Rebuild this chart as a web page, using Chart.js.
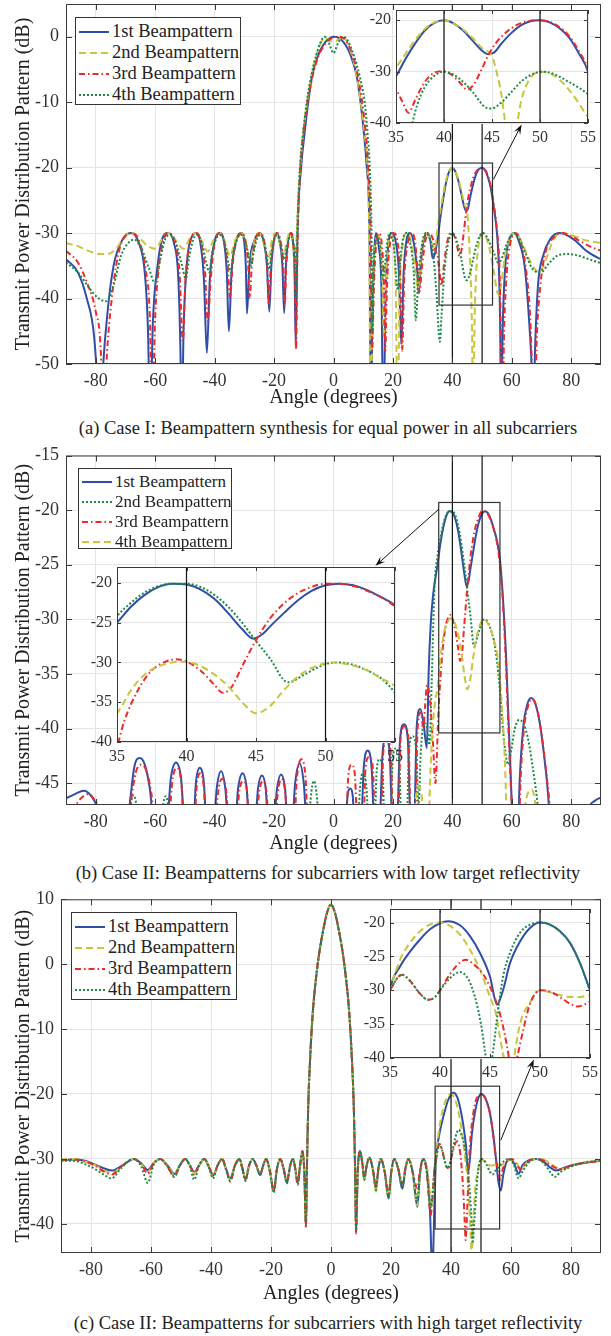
<!DOCTYPE html>
<html>
<head>
<meta charset="utf-8">
<script src="https://cdn.jsdelivr.net/npm/chart.js@4.4.0/dist/chart.umd.min.js"></script>
<style>
  body { margin: 0; background: #fff; }
  #page { position: relative; width: 611px; height: 1336px; font-family: "Liberation Serif", "Times New Roman", serif; color: #222; overflow: hidden; }
  canvas { position: absolute; }
  .legend { position: absolute; background: #fff; border: 1px solid #333; box-sizing: border-box; padding: 3px 0 0 3px; }
  .legend .row { display: flex; align-items: center; white-space: nowrap; }
  .legend svg { margin-right: 3px; flex: none; }
  .caption { position: absolute; left: 0; width: 656px; text-align: center; font-size: 18.5px; line-height: 22px; white-space: nowrap; }
</style>
</head>
<body>
<div id="page">
  <canvas id="mainA" width="611" height="412" style="left:0;top:0"></canvas>
  <canvas id="zoomA" width="240" height="141" style="left:360px;top:6px"></canvas>
  <div class="caption" style="top:417px">(a) Case I: Beampattern synthesis for equal power in all subcarriers</div>

  <canvas id="mainB" width="611" height="418" style="left:0;top:440px"></canvas>
  <canvas id="zoomB" width="326" height="203" style="left:81px;top:563px"></canvas>
  <div class="caption" style="top:862px">(b) Case II: Beampatterns for subcarriers with low target reflectivity</div>

  <canvas id="mainC" width="611" height="428" style="left:0;top:880px"></canvas>
  <canvas id="zoomC" width="248" height="177" style="left:354px;top:905px"></canvas>
  <div class="caption" style="top:1312px">(c) Case II: Beampatterns for subcarriers with high target reflectivity</div>
</div>
<script>
// ---- (a) Case I, [angle deg, dB]
const a1 = [[-90,-34],[-86,-36],[-83,-40],[-80.5,-46],[-79.3,-55],[-78.7,-65],[-77.7,-52],[-76,-42],[-74,-35],[-71,-31],[-68.2,-30],[-65.5,-31.5],[-63.5,-36],[-62.4,-45],[-61.7,-60],[-60.8,-44],[-59.2,-35],[-57.7,-31],[-55.8,-30],[-53.7,-31.5],[-52.2,-37],[-51.5,-48],[-51.1,-60],[-50.4,-44],[-49.2,-34],[-47.6,-30.5],[-46.3,-30],[-44.8,-31.5],[-43.6,-37],[-42.6,-48.3],[-41.6,-37],[-40.1,-31.5],[-38.2,-30],[-36.8,-31.5],[-35.9,-36],[-35.2,-45],[-34.3,-36],[-32.7,-31],[-31,-30],[-30,-31.5],[-29.5,-35],[-29.1,-42.3],[-28.3,-35],[-26.5,-31],[-24.8,-30],[-23.4,-31.5],[-22.4,-35],[-21.6,-42],[-20.9,-35],[-20,-31],[-19.1,-30],[-18,-31.5],[-17.2,-35],[-16.6,-42.2],[-16,-35],[-15.2,-31],[-14.3,-30],[-13.6,-31.5],[-13.1,-36],[-12.7,-47.3],[-12.1,-30],[-10.9,-20],[-9.8,-15],[-8.5,-10],[-7.2,-6],[-5.3,-3],[-2.7,-0.8],[0.3,0],[3.3,-0.8],[5.9,-3],[7.8,-6],[9.1,-10],[10.3,-15],[11.2,-20],[12.1,-30],[12.6,-60],[13.1,-42],[13.7,-33],[14.3,-30],[15.2,-32],[16.1,-38],[16.8,-60],[17.5,-40],[18.4,-32],[19.6,-30],[21,-31.5],[22,-36],[22.8,-47],[23.6,-36],[24.6,-31],[25.8,-30],[27,-31.5],[28,-35],[28.7,-39.2],[29.5,-34],[30.5,-30.8],[31.7,-30],[32.7,-31.5],[33.3,-33.8],[34.2,-33],[35,-30.9],[36,-27.5],[37,-24.5],[38,-22],[39,-20.5],[40,-20],[41,-20.6],[42,-22],[43,-24],[44,-26],[44.6,-26.6],[45.2,-26.3],[46,-24.5],[47,-22.5],[48,-21],[49,-20.2],[50,-20],[51,-20.4],[52,-21.5],[53,-23.3],[54,-26.3],[55,-30],[55.7,-36],[56.1,-45],[56.4,-60],[56.9,-45],[57.8,-35],[58.8,-31.5],[59.8,-30.3],[60.8,-30],[62.4,-31.3],[64.3,-35],[65.9,-44],[66.8,-52],[67.2,-60],[67.8,-48],[68.8,-38],[70.5,-33.5],[72.8,-31],[76,-30],[78.5,-30.3],[81.5,-31.2],[84.5,-32.5],[87,-33.3],[90,-34]];
const a2 = [[-90,-31.5],[-86,-32],[-82,-32.8],[-78.5,-33.2],[-76,-33.2],[-73,-32.3],[-70.5,-30.7],[-68,-30],[-65.5,-30.6],[-63,-31.8],[-60,-32.4],[-57.5,-30.8],[-55.5,-30],[-53.2,-31],[-50.5,-32.4],[-48.3,-30.8],[-46.5,-30],[-44.3,-31.2],[-42.3,-32.8],[-40.3,-31],[-38.3,-30],[-36.5,-31.5],[-34.8,-33.5],[-33,-31],[-31.2,-30],[-29.5,-31.5],[-28,-34],[-26.5,-31],[-25,-30],[-23.5,-31.5],[-22,-34],[-20.7,-31],[-19.4,-30],[-18,-31.5],[-16.8,-33.5],[-15.6,-31],[-14.7,-30],[-13.7,-31.5],[-12.9,-35],[-12.4,-30],[-11.2,-20],[-10,-14],[-8.7,-9.5],[-7,-5],[-5,-1.8],[-3,-0.2],[-1.5,-0.5],[0,-0.8],[1.5,-0.5],[3.3,-0.1],[5.3,-1.6],[7.3,-4.8],[9,-9.5],[10.5,-15],[11.5,-21],[12.1,-35],[12.4,-60],[13.3,-38],[14.2,-31],[15.2,-30.5],[16.3,-35],[17,-46],[17.8,-36],[19,-30.5],[20,-31],[20.9,-38],[21.6,-60],[22.2,-40],[23.3,-32],[24.6,-30],[26.2,-31.5],[27.6,-36],[28.5,-38.5],[29.5,-33],[31,-30],[32.6,-31],[34,-32.5],[35,-29.3],[36,-26.5],[37,-23.8],[38,-21.7],[39,-20.4],[40,-20],[41,-20.6],[42,-21.8],[43,-23.5],[44,-25.5],[45,-27],[45.6,-31],[46.1,-36],[46.6,-45],[47,-60],[47.4,-45],[47.9,-37],[48.5,-33],[49.3,-30.6],[50.2,-30],[51,-30.3],[52,-31.5],[53,-33.5],[54,-36],[55,-38.8],[55.7,-39.5],[56.5,-37.5],[57.7,-33.5],[59.2,-30.8],[60.8,-30],[62.5,-30.7],[64.5,-32.6],[67,-35],[69.3,-36],[71.5,-34],[74,-31],[77,-30],[80,-30.3],[84,-31],[90,-31.5]];
const a3 = [[-90,-32.7],[-86,-34.5],[-83,-37.5],[-80,-42],[-78.3,-48],[-77.4,-62],[-76.4,-50],[-74.6,-40],[-72.3,-33],[-69.7,-30.3],[-67.7,-30],[-65.2,-31.5],[-63.2,-35.5],[-61.7,-44],[-61,-60],[-60.1,-44],[-58.7,-35],[-57,-30.8],[-55.6,-30],[-53.3,-31.5],[-51.8,-36],[-50.7,-46.5],[-49.8,-37],[-48.3,-31.5],[-46.3,-30],[-44.5,-31.5],[-43.2,-36],[-42.3,-43.5],[-41.3,-37],[-40,-31.5],[-38.2,-30],[-36.7,-31.5],[-35.6,-35],[-34.8,-40],[-34,-35],[-32.5,-31],[-30.7,-30],[-29.5,-31.5],[-28.7,-35],[-28.2,-40],[-27.5,-35],[-26.2,-31],[-24.5,-30],[-23.2,-31.5],[-22.3,-35],[-21.8,-41],[-21.1,-35],[-19.9,-31],[-18.9,-30],[-17.7,-31.5],[-16.9,-35],[-16.4,-41],[-15.9,-35],[-15,-31],[-14.2,-30],[-13.5,-31.5],[-13,-36],[-12.6,-47.8],[-12.1,-32],[-11.4,-22],[-10.4,-16],[-9.1,-11],[-7.5,-7],[-5.5,-3.5],[-3,-1.2],[-0.5,-0.2],[1.8,0],[4,-0.5],[6.2,-2.5],[8,-5.5],[9.5,-9.5],[10.7,-14],[11.7,-20],[12.5,-30],[13,-48],[13.6,-38],[14.3,-32],[15.2,-30],[16.3,-32],[17,-38],[17.4,-48],[18,-38],[18.9,-32],[20.2,-30],[21.6,-31.5],[22.5,-37],[23.1,-48],[23.8,-37],[25,-31.5],[26.2,-30],[27.5,-31.5],[28.3,-36],[28.9,-39],[29.8,-35],[31,-31],[32.3,-30],[33.5,-31],[34.5,-33],[35,-33.5],[35.7,-36],[36.3,-38],[37,-35.5],[38,-32],[39,-30.2],[39.8,-29.9],[40.7,-30.5],[41.6,-32],[42.4,-33.5],[43.1,-32.5],[43.8,-30],[44.7,-26.5],[45.5,-24.2],[46.5,-22.3],[47.5,-21],[48.5,-20.3],[49.7,-20],[51,-20.3],[52,-21.3],[53,-23],[54,-25.8],[55,-29.5],[55.8,-35],[56.3,-45],[56.8,-60],[57.4,-45],[58.3,-36],[59.5,-31.5],[61.2,-30],[62.8,-31],[64.6,-35],[66.2,-43],[67.6,-60],[68.4,-46],[69.6,-38],[71.3,-33],[74,-30.7],[77,-30],[80,-30.5],[84,-31.5],[87,-32.2],[90,-32.7]];
const a4 = [[-90,-34.5],[-86,-36],[-82,-38.5],[-79,-40],[-76.3,-40.4],[-74,-38],[-71.5,-33.5],[-69,-31.5],[-67,-31],[-64.5,-32.5],[-62,-35.5],[-60.1,-37.6],[-58.3,-34],[-56.7,-31],[-55,-30.3],[-53,-31.5],[-51.2,-34.5],[-49.7,-36.9],[-48.5,-33.5],[-47.2,-31],[-46,-30.3],[-44.3,-31.5],[-42.8,-34.5],[-41.8,-36],[-40.8,-33],[-39.4,-30.8],[-38,-30.3],[-36.6,-31.5],[-35.4,-34.5],[-34.6,-36],[-33.7,-33],[-32.3,-30.8],[-31,-30.3],[-29.6,-31.5],[-28.5,-33.5],[-27.7,-35],[-26.9,-33],[-25.7,-30.8],[-24.5,-30.3],[-23.3,-31.5],[-22.3,-34],[-21.6,-35.5],[-20.9,-33],[-19.8,-30.8],[-19,-30.3],[-18,-31.5],[-17.2,-33],[-16.6,-34],[-15.9,-32.5],[-15,-30.8],[-14.2,-30.5],[-13.5,-31.5],[-12.9,-34],[-12.6,-40],[-12.2,-30],[-11.3,-20],[-10.3,-15],[-9,-10],[-7.5,-6],[-5.8,-2.8],[-4.3,-0.8],[-3,0],[-1.6,-0.9],[0,-2.5],[1.6,-0.9],[3.3,0],[4.8,-0.6],[6.8,-2.8],[8.8,-6],[10.5,-10],[11.5,-15],[12.2,-20],[12.8,-30],[13.1,-45],[13.5,-36],[14.3,-31],[15,-30.5],[15.8,-32.5],[16.6,-37],[17.3,-35],[18.2,-31],[19.3,-30],[20.3,-32],[21,-36],[21.6,-38.7],[22.3,-35],[23.3,-31],[24.6,-30],[25.8,-31.5],[27,-36],[27.7,-43.3],[28.5,-37],[29.7,-32],[31,-30],[32.3,-30.8],[33.5,-33],[34.6,-39],[35.8,-46.6],[36.3,-43],[36.7,-40],[37.2,-36.5],[38,-33],[39,-30.8],[40,-30],[41,-30.6],[42,-32],[43,-34],[44.2,-36.8],[44.9,-37.2],[45.8,-36.3],[47,-34],[48,-32],[49.3,-30.4],[50.3,-30],[51.5,-30.5],[53,-32],[54.2,-33.3],[55.3,-34.5],[56.5,-34],[58,-32],[59.5,-30.6],[60.8,-30],[62.5,-31],[64.5,-33],[67,-35.5],[69.7,-36],[72.5,-34.6],[75.5,-33.4],[78.8,-33.2],[82,-33.4],[86,-34],[90,-34.6]];

// ---- (b) Case II, low reflectivity
const b1 = [[-90,-46.4],[-87,-46],[-84,-45.7],[-81.5,-46.2],[-79.5,-47.3],[-78,-50],[-70,-50],[-68.6,-47],[-67,-43.5],[-65.2,-42.7],[-63.5,-43.3],[-61.8,-45.5],[-60.3,-49],[-56.2,-49],[-54.7,-44.5],[-53,-43.1],[-51.3,-44.5],[-50,-49],[-47.2,-49],[-46.3,-45],[-45,-43.6],[-43.6,-45],[-42.7,-49],[-40.3,-49],[-39.3,-45.5],[-37.8,-43.9],[-36.4,-45.5],[-35.3,-49],[-33.2,-49],[-32.1,-45.5],[-30.6,-44.1],[-29.2,-45.5],[-28.3,-49],[-26.5,-49],[-25.4,-45.5],[-24.1,-44.3],[-22.8,-45.5],[-21.9,-49],[-20.3,-49],[-19,-45.5],[-17.7,-44.2],[-16.3,-45.5],[-15.4,-49],[-14,-49],[-12.9,-45],[-11.4,-43.2],[-10,-45],[-8.9,-49],[3.8,-49],[4.8,-46],[5.6,-45.5],[6.4,-46],[7.2,-49],[9.2,-49],[10.2,-43.5],[11.5,-42],[12.8,-43.5],[13.8,-49],[15.4,-49],[16.5,-42.3],[17.7,-40.8],[18.9,-42.3],[19.9,-49],[21.3,-49],[22.4,-41],[23.7,-39.6],[25,-41],[26,-49],[27.1,-49],[28,-39.8],[29.2,-38.2],[30.3,-39.5],[31.4,-41.8],[32,-35],[32.7,-30.5],[33.5,-27.8],[34.3,-26.2],[35,-25],[36,-23],[37,-21.5],[38,-20.5],[39,-20.1],[40,-20.2],[41,-20.8],[42,-22],[43,-23.8],[44,-25.8],[44.8,-27],[45.5,-26.4],[46,-25.5],[47,-23.8],[48,-22.2],[49,-21],[50,-20.3],[51,-20.1],[52,-20.3],[53,-20.9],[54,-21.8],[55,-22.8],[56,-24.5],[57,-28],[58,-33],[59,-40],[60,-47],[60.6,-50],[62,-50],[62.6,-45],[63.8,-40],[65.2,-37.8],[66.5,-37.2],[68,-37.8],[69.7,-40],[71.5,-44],[73.5,-49],[84.5,-49],[86,-47.2],[88,-46.6],[90,-46.3]];
const b2 = [[-90,-50],[-69,-50],[-68.3,-47.3],[-67.3,-46.1],[-66.2,-47.3],[-65.5,-50],[-58,-50],[-57.4,-47.3],[-56.5,-46.2],[-55.6,-47.3],[-55,-50],[-8.5,-50],[-7.7,-46.5],[-6.6,-44.8],[-5.5,-46.5],[-4.7,-50],[8,-50],[8.9,-45.5],[10,-44],[11.1,-45.5],[12,-50],[13.7,-50],[14.5,-44],[15.5,-42.8],[16.5,-44],[17.4,-50],[19,-50],[19.9,-43],[21,-41.8],[22.1,-43],[23,-50],[24.5,-50],[25.4,-42],[26.6,-40.7],[27.8,-42],[28.6,-47],[29.4,-42],[30.5,-39.5],[31.5,-40],[32.3,-41.5],[33,-36],[34,-27],[35,-24.2],[36,-22.5],[37,-21.2],[38,-20.4],[39,-20.1],[40,-20.1],[41,-20.5],[42,-21.5],[43,-23],[44,-25],[45,-27.3],[46,-29.5],[47.3,-32.5],[48.5,-31.5],[50,-30.2],[51,-30],[52,-30.3],[53,-31],[54,-32],[55,-33.8],[56,-36.5],[57,-40],[58,-42.5],[58.8,-43.3],[59.8,-42],[61,-40],[62.5,-39.2],[64,-39.6],[65.5,-41],[67,-43.5],[68.5,-46.5],[69.8,-50],[90,-50]];
const b3 = [[-90,-50],[-87.5,-47.5],[-85,-46.4],[-82.5,-46],[-80.5,-46.5],[-78.8,-47.5],[-77.5,-50],[-69.5,-50],[-68.3,-47],[-66.5,-44],[-64.6,-43.3],[-62.8,-44],[-61,-46.5],[-59.8,-50],[-55.8,-50],[-54.3,-45],[-52.8,-43.6],[-51.2,-45],[-50,-50],[-47,-50],[-46.1,-45.5],[-44.9,-44.1],[-43.6,-45.5],[-42.7,-50],[-40,-50],[-38.9,-46],[-37.4,-44.6],[-36,-46],[-35,-50],[-32.9,-50],[-31.8,-46],[-30.4,-44.8],[-29,-46],[-28.1,-50],[-26.4,-50],[-25.1,-46],[-23.8,-44.8],[-22.5,-46],[-21.6,-50],[-19.9,-50],[-18.8,-46],[-17.5,-44.6],[-16.2,-46],[-15.2,-50],[-13.5,-50],[-12.3,-44.5],[-10.8,-42.8],[-9.4,-44.5],[-8.4,-50],[4,-50],[5,-44.3],[6.1,-43.3],[7.2,-44.3],[8.2,-50],[9.9,-50],[10.8,-43.5],[12,-42.6],[13.2,-43.5],[14.2,-50],[15.8,-50],[16.8,-42],[18,-41],[19.2,-42],[20.2,-50],[21.6,-50],[22.6,-40.8],[23.9,-39.8],[25.2,-40.8],[26.1,-50],[27.3,-50],[28.3,-40],[29.4,-38.5],[30.2,-40],[30.8,-38],[31.5,-36],[32.5,-37.5],[33.5,-41.5],[34.3,-45],[35.1,-40],[35.5,-37.5],[36.5,-33.5],[37.5,-31],[38.5,-29.9],[39.2,-29.6],[40,-29.9],[41,-31],[42,-32.8],[42.6,-33.8],[43.2,-33.2],[44,-30.5],[45,-27.2],[46,-24.5],[47,-22.6],[48,-21.3],[49,-20.5],[50,-20.1],[51,-20.1],[52,-20.4],[53,-21],[54,-21.8],[55,-23],[56,-25],[57,-28.5],[58,-34],[59,-41],[60,-47],[60.8,-50],[62.3,-50],[62.9,-45],[64.1,-40],[65.5,-37.9],[66.8,-37.3],[68.3,-38],[70,-40.5],[72,-45],[74.3,-50],[90,-50]];
const b4 = [[-90,-50],[26.5,-50],[27.6,-46.5],[28.7,-45.3],[29.8,-46.5],[30.7,-50],[31.8,-50],[32.6,-44],[33.5,-39.5],[34.3,-37.3],[35,-36.4],[36,-33.5],[37,-31.5],[38,-30.5],[39.5,-29.9],[40.5,-30.1],[42,-31.5],[43,-33],[44,-35],[45,-36.4],[46,-35.5],[47,-33.5],[48,-31.8],[49,-30.7],[50.5,-30],[52,-30.4],[53,-31],[54,-32],[55,-33],[56,-35.5],[57,-39.5],[57.8,-44],[58.5,-50],[63.5,-50],[64.5,-47],[65.6,-45.8],[66.6,-45.6],[67.7,-46.5],[68.7,-50],[90,-50]];

// ---- (c) Case II, high reflectivity (main lobe shared by all four)
const cLobe = [[-8.05,-32],[-7.6,-22],[-6.9,-14],[-6,-7],[-5,-2.2],[-3.9,1.8],[-2.7,5],[-1.4,7.8],[0,9.2],[1.4,7.8],[2.7,5],[3.9,1.8],[5,-2.2],[6,-7],[6.9,-14],[7.6,-22],[8.05,-32]];
const c1L = [[-90,-30.2],[-86,-30.1],[-82,-30.3],[-79,-30.8],[-76,-31.4],[-73,-31.8],[-69.5,-31],[-65.8,-30],[-63.2,-30.7],[-61.1,-31.7],[-59,-30.6],[-56.9,-30],[-54.5,-31],[-52.2,-32.3],[-50.4,-31],[-48.6,-30],[-47,-31],[-45.6,-32],[-44,-31],[-42.2,-30],[-40.6,-31.3],[-39.3,-32.6],[-37.8,-31],[-36.3,-30],[-35,-31.5],[-33.6,-33],[-32,-31],[-30.5,-30],[-29.5,-31.5],[-28.5,-33.2],[-27.3,-31],[-26.1,-30],[-24.9,-31],[-23.6,-32.5],[-22.6,-31],[-21.6,-30],[-20.3,-32],[-19.1,-35],[-18,-31.5],[-16.9,-30],[-15.8,-31.5],[-14.7,-33.7],[-13.6,-31],[-12.7,-30],[-11.9,-31.5],[-11.1,-33.7],[-10.3,-31],[-9.5,-28.8],[-8.9,-32],[-8.35,-40.5]];
const c1R = [[8.35,-41.3],[8.9,-32],[9.7,-28.8],[10.4,-30.5],[11.1,-33],[11.9,-31],[12.8,-29.8],[13.9,-31.5],[15,-34.4],[15.8,-31.5],[16.6,-30],[17.9,-32],[19.2,-36.1],[20.1,-32],[21.1,-30],[22.4,-31.5],[23.8,-34.6],[24.8,-31.5],[25.8,-30],[27.2,-32],[28.8,-37.4],[29.6,-32.5],[30.7,-30],[31.9,-31.5],[32.9,-37],[33.4,-44],[33.7,-50],[34.1,-44],[34.6,-35],[35,-30],[36,-26.5],[37,-24.3],[38,-22.5],[39,-21],[40,-20.1],[40.8,-19.8],[42,-20.4],[43,-22],[44,-24.5],[45,-28],[45.7,-32.1],[46.3,-30],[47,-26],[48,-22.8],[49,-20.8],[50,-20],[51,-20.3],[52,-21.3],[53,-23],[54,-26],[55,-30],[55.8,-33.5],[56.6,-34.9],[57.4,-32.5],[58.5,-30.5],[60,-30],[61.3,-31],[62.5,-32.3],[63.8,-31],[66,-30.2],[68.5,-30],[71,-30.5],[73,-31.3],[75,-31.8],[78,-31.3],[82,-30.8],[86,-30.5],[90,-30.3]];
const c2L = [[-90,-30.1],[-86,-30],[-82,-30.4],[-78.5,-31],[-75.5,-31.8],[-73,-32.2],[-69.5,-31],[-65.8,-30],[-63.2,-30.8],[-61.1,-32],[-59,-30.6],[-56.9,-30],[-54.5,-31],[-52.2,-32.5],[-50.4,-31],[-48.6,-30],[-47,-31],[-45.6,-32.2],[-44,-31],[-42.2,-30],[-40.6,-31.3],[-39.3,-32.8],[-37.8,-31],[-36.3,-30],[-35,-31.5],[-33.6,-33.2],[-32,-31],[-30.5,-30],[-29.5,-31.5],[-28.5,-33],[-27.3,-31],[-26.1,-30],[-24.9,-31],[-23.6,-32.3],[-22.6,-31],[-21.6,-30],[-20.3,-32],[-19.1,-35],[-18,-31.5],[-16.9,-30],[-15.8,-31.5],[-14.7,-33.5],[-13.6,-31],[-12.7,-30],[-11.9,-31.5],[-11.1,-33.5],[-10.3,-31],[-9.5,-29],[-8.9,-32],[-8.35,-40]];
const c2R = [[8.35,-41],[8.9,-32],[9.7,-29],[10.4,-30.5],[11.1,-33.3],[11.9,-31],[12.8,-29.8],[13.9,-31.5],[15,-35],[15.8,-31.5],[16.6,-30],[17.9,-32],[19.2,-35.8],[20.1,-32],[21.1,-30],[22.4,-31.5],[23.8,-33.6],[24.8,-31.5],[25.8,-30],[27.2,-32],[28.8,-37.2],[29.6,-33],[30.7,-30.2],[31.9,-31],[32.9,-35],[33.5,-37.3],[34.2,-35],[35,-30],[36,-25.5],[37,-23],[38,-21.3],[39,-20.3],[40,-20],[41,-20.5],[42,-21.8],[43,-24],[44,-27],[45,-31],[45.6,-33.5],[46,-37],[46.5,-41],[46.9,-45],[47.3,-41],[48,-35],[49,-31.8],[50,-30],[51,-30.3],[52,-30.7],[53,-31],[54,-31],[55,-30.7],[56.5,-31],[58,-30.6],[60,-30],[61.8,-30.6],[63.3,-31.6],[64.8,-30.8],[67,-30.1],[70,-30],[72.5,-30.5],[75,-31.3],[77.5,-31.5],[81,-31],[85,-30.5],[90,-30.2]];
const c3L = [[-90,-30.2],[-86,-30.1],[-82,-30.4],[-78.5,-31.1],[-75.5,-32],[-73,-32.4],[-69.5,-31],[-65.8,-30],[-63.2,-30.8],[-61.1,-32.3],[-59,-30.6],[-56.9,-30],[-54.5,-31.2],[-52.2,-32.7],[-50.4,-31],[-48.6,-30],[-47,-31],[-45.6,-32.4],[-44,-31],[-42.2,-30],[-40.6,-31.3],[-39.3,-32.5],[-37.8,-31],[-36.3,-30],[-35,-31.5],[-33.6,-33.5],[-32,-31],[-30.5,-30],[-29.5,-31.5],[-28.5,-33],[-27.3,-31],[-26.1,-30],[-24.9,-31],[-23.6,-32.3],[-22.6,-31],[-21.6,-30],[-20.3,-32],[-19.1,-35],[-18,-31.5],[-16.9,-30],[-15.8,-31.5],[-14.7,-33.5],[-13.6,-31],[-12.7,-30],[-11.9,-31.5],[-11.1,-34],[-10.3,-31],[-9.5,-28.8],[-8.9,-32],[-8.35,-40.5]];
const c3R = [[8.35,-41.5],[8.9,-32],[9.7,-28.8],[10.4,-30.5],[11.1,-32.8],[11.9,-31],[12.8,-29.8],[13.9,-31.5],[15,-34],[15.8,-31.5],[16.6,-30],[17.9,-32],[19.2,-35.3],[20.1,-32],[21.1,-30],[22.4,-31.5],[23.8,-33.8],[24.8,-31.5],[25.8,-30],[27.2,-32],[28.8,-34.5],[29.6,-32],[30.7,-30],[31.9,-32],[32.6,-36],[33.2,-38.8],[33.8,-36],[34.5,-31.5],[35,-30],[36.2,-27.7],[37,-28.6],[38,-30.5],[38.8,-31.4],[39.5,-31],[40,-30],[41,-28.2],[42,-27.3],[42.8,-28.3],[43.5,-31],[44.1,-35],[44.5,-39],[44.9,-42.5],[45.3,-39],[45.8,-33],[46.3,-28],[47,-24.5],[48,-21.5],[49,-20.3],[50,-20],[51,-20.3],[52,-21.3],[53,-23],[54,-26],[55,-30],[55.8,-32.2],[56.4,-33.2],[57.3,-31.5],[58.8,-30.3],[60.3,-30],[62,-31],[63.2,-31.6],[64.8,-30.8],[67,-30.1],[69.5,-30],[72,-30.6],[74.5,-31.3],[76.5,-31.6],[80,-31],[85,-30.6],[90,-30.3]];
const c4L = [[-90,-30.3],[-86,-30.3],[-82,-30.8],[-78.5,-31.6],[-75.5,-32.5],[-73.3,-33],[-69.5,-31.2],[-65.8,-30],[-63.2,-31.2],[-61.1,-33.7],[-59,-30.8],[-56.9,-30],[-54.5,-31.2],[-52.2,-32.8],[-50.4,-31],[-48.6,-30],[-47,-31.2],[-45.6,-33.2],[-44,-31],[-42.2,-30],[-40.6,-31.5],[-39.3,-33],[-37.8,-31],[-36.3,-30],[-35,-31.7],[-33.6,-33.4],[-32,-31],[-30.5,-30],[-29.5,-31.7],[-28.5,-33.4],[-27.3,-31],[-26.1,-30],[-24.9,-31],[-23.6,-32.5],[-22.6,-31],[-21.6,-30],[-20.3,-32.2],[-19.1,-35.2],[-18,-31.5],[-16.9,-30],[-15.8,-31.5],[-14.7,-33.8],[-13.6,-31],[-12.7,-30],[-11.9,-31.5],[-11.1,-34],[-10.3,-31],[-9.5,-29],[-8.9,-32],[-8.35,-40]];
const c4R = [[8.35,-41],[8.9,-32],[9.7,-29],[10.4,-30.5],[11.1,-33.2],[11.9,-31],[12.8,-29.8],[13.9,-31.5],[15,-34.8],[15.8,-31.5],[16.6,-30],[17.9,-32],[19.2,-36],[20.1,-32],[21.1,-30],[22.4,-31.5],[23.8,-34.5],[24.8,-31.5],[25.8,-30],[27.2,-32],[28.8,-36.5],[29.6,-32.5],[30.7,-30],[31.9,-32],[32.6,-35.5],[33.2,-37.5],[33.9,-35],[34.5,-31.5],[35,-30],[36.2,-27.7],[37,-28.6],[38,-30.5],[38.8,-31.4],[39.5,-31],[40,-30],[41,-27.6],[42,-25.9],[42.6,-25.5],[43.4,-26.2],[44.3,-27.6],[45,-29.5],[45.8,-32.5],[46.4,-36],[46.9,-40],[47.2,-43],[47.7,-40],[48.3,-36],[49,-32],[50,-30],[51,-30.2],[52,-31],[53,-32],[53.8,-32.4],[55,-31.7],[56,-31.2],[57.5,-30.4],[59.5,-30],[61,-31],[62.5,-33],[64,-31.8],[66.5,-30.3],[69,-30],[71.5,-31],[73.5,-32.3],[74.5,-32.8],[76.5,-32],[80,-31.2],[85,-30.5],[90,-30.2]];

const labels = ['1st Beampattern', '2nd Beampattern', '3rd Beampattern', '4th Beampattern'];
// axis limits and tick values
const xMain = [-90, 90], xTicksMain = [-80, -60, -40, -20, 0, 20, 40, 60, 80];
const yMainA = [-50, 5], yTicksA = [-50, -40, -30, -20, -10, 0];
const yMainB = [-47, -15], yTicksB = [-45, -40, -35, -30, -25, -20, -15];
const yMainC = [-44.5, 10], yTicksC = [-40, -30, -20, -10, 0, 10];
const xZoom = [35, 55], xTicksZoom = [35, 40, 45, 50, 55];
const yZoom = [-40, -18], yTicksZoomA = [-40, -30, -20], yTicksZoomBC = [-40, -35, -30, -25, -20];
// marker lines, zoom boxes [x0, x1, y0, y1], arrows [[from], [to]]
const marks = [40, 50];
const boxA = [35.5, 53.5, -41, -19.3], boxB = [35.4, 56, -40.4, -19.3], boxC = [34.7, 56.2, -40.8, -18.8];
const arrowA = [[53.8, -21.8], [63.3, -13.4]];
const arrowB = [[35.5, -19.9], [14.1, -25.1]];
const arrowC = [[56.6, -27.1], [67.6, -14.7]];

const SERIF = '"Liberation Serif", "Times New Roman", serif';
const BLUE = '#2f4ea6', YELLOW = '#c9c53c', RED = '#ee2a2a', GREEN = '#1f8a47';
const SOLID = [], DASH = [7, 4], DASHDOT = [6, 3, 1.5, 3], DOT = [2, 2];

function series(label, pts, color, dash, order) {
  return {
    label, data: pts.map(p => ({ x: p[0], y: p[1] })),
    borderColor: color, borderDash: dash, borderWidth: 2, pointRadius: 0,
    cubicInterpolationMode: 'monotone', fill: false, order
  };
}

function decor(o) {
  return {
    id: 'decor',
    beforeDraw(chart) {
      if (!o.white) return;
      const { ctx, chartArea: a } = chart;
      ctx.save();
      ctx.fillStyle = '#fff';
      ctx.fillRect(a.left, a.top, a.width, a.height);
      ctx.restore();
    },
    afterDatasetsDraw(chart) {
      const { ctx, chartArea: a, scales: { x, y } } = chart;
      ctx.save();
      ctx.strokeStyle = '#111';
      ctx.lineWidth = 1.2;
      marks.forEach(v => {
        const px = x.getPixelForValue(v);
        ctx.beginPath(); ctx.moveTo(px, a.top); ctx.lineTo(px, a.bottom); ctx.stroke();
      });
      if (o.box) {
        const [x0, x1, y0, y1] = o.box;
        const l = x.getPixelForValue(x0), r = x.getPixelForValue(x1);
        const t = y.getPixelForValue(y1), b = y.getPixelForValue(y0);
        ctx.strokeStyle = '#333';
        ctx.strokeRect(l, t, r - l, b - t);
      }
      if (o.arrow) {
        const [[ax, ay], [bx, by]] = o.arrow;
        const x0 = x.getPixelForValue(ax), y0 = y.getPixelForValue(ay);
        const x1 = x.getPixelForValue(bx), y1 = y.getPixelForValue(by);
        const ang = Math.atan2(y1 - y0, x1 - x0), L = 10, W = 3.5;
        const c = Math.cos(ang), s = Math.sin(ang);
        ctx.strokeStyle = '#111'; ctx.fillStyle = '#111'; ctx.lineWidth = 1;
        ctx.beginPath(); ctx.moveTo(x0, y0); ctx.lineTo(x1 - L * 0.6 * c, y1 - L * 0.6 * s); ctx.stroke();
        ctx.beginPath();
        ctx.moveTo(x1, y1);
        ctx.lineTo(x1 - L * c + W * s, y1 - L * s - W * c);
        ctx.lineTo(x1 - L * 0.6 * c, y1 - L * 0.6 * s);
        ctx.lineTo(x1 - L * c - W * s, y1 - L * s + W * c);
        ctx.closePath(); ctx.fill();
      }
      // axes box with inward ticks
      ctx.strokeStyle = '#3a3a3a'; ctx.lineWidth = 1;
      ctx.strokeRect(a.left + 0.5, a.top + 0.5, a.width - 1, a.height - 1);
      const T = o.tick;
      ctx.beginPath();
      x.ticks.forEach(t => {
        const px = Math.round(x.getPixelForValue(t.value)) + 0.5;
        ctx.moveTo(px, a.bottom); ctx.lineTo(px, a.bottom - T);
        ctx.moveTo(px, a.top); ctx.lineTo(px, a.top + T);
      });
      y.ticks.forEach(t => {
        const py = Math.round(y.getPixelForValue(t.value)) + 0.5;
        ctx.moveTo(a.left, py); ctx.lineTo(a.left + T, py);
        ctx.moveTo(a.right, py); ctx.lineTo(a.right - T, py);
      });
      ctx.stroke();
      ctx.restore();
    }
  };
}

function makeChart(id, sets, o) {
  const tickFont = { family: SERIF, size: o.fs };
  return new Chart(document.getElementById(id), {
    type: 'line',
    data: { datasets: sets },
    options: {
      responsive: false, animation: false, devicePixelRatio: 1,
      layout: { padding: { left: 0, top: o.padTop, right: o.padRight, bottom: 0 } },
      plugins: { legend: { display: false }, tooltip: { enabled: false } },
      scales: {
        x: {
          type: 'linear', min: o.x[0], max: o.x[1],
          afterBuildTicks: s => { s.ticks = o.xTicks.map(v => ({ value: v })); },
          ticks: { padding: o.xPad, maxRotation: 0, autoSkip: false, color: '#333', font: tickFont },
          grid: { color: '#e4e4e4', drawTicks: false }, border: { display: false },
          title: { display: !!o.xTitle, text: o.xTitle, color: '#222', font: { family: SERIF, size: 20 }, padding: { top: 0, bottom: 2 } },
          afterFit: s => { s.height = o.xH; s.paddingLeft = 0; s.paddingRight = 0; }
        },
        y: {
          type: 'linear', min: o.y[0], max: o.y[1],
          afterBuildTicks: s => { s.ticks = o.yTicks.map(v => ({ value: v })); },
          ticks: { padding: o.yPad, color: '#333', font: tickFont },
          grid: { color: '#e4e4e4', drawTicks: false }, border: { display: false },
          title: { display: !!o.yTitle, text: o.yTitle, color: '#222', font: { family: SERIF, size: 20 }, padding: { top: 12, bottom: 0 } },
          afterFit: s => { s.width = o.yW; s.paddingTop = 0; s.paddingBottom = 0; }
        }
      }
    },
    plugins: [decor(o)]
  });
}

function legend(chart, left, top, w, h, fs, rowH) {
  const box = document.createElement('div');
  box.className = 'legend';
  Object.assign(box.style, { left: left + 'px', top: top + 'px', width: w + 'px', height: h + 'px', fontSize: fs + 'px', lineHeight: rowH + 'px' });
  chart.data.datasets.forEach(ds => {
    const row = document.createElement('div');
    row.className = 'row';
    row.style.height = rowH + 'px';
    const dash = ds.borderDash.length ? ds.borderDash.join(' ') : 'none';
    row.innerHTML = '<svg width="30" height="6"><line x1="0" y1="3" x2="30" y2="3" stroke="' + ds.borderColor +
      '" stroke-width="2" stroke-dasharray="' + dash + '"/></svg><span>' + ds.label + '</span>';
    box.appendChild(row);
  });
  document.getElementById('page').appendChild(box);
}

const yTitle = 'Transmit Power Distribution Pattern (dB)';
const setsA = () => [series(labels[0], a1, BLUE, SOLID, 4), series(labels[1], a2, YELLOW, DASH, 3), series(labels[2], a3, RED, DASHDOT, 2), series(labels[3], a4, GREEN, DOT, 1)];
const setsB = () => [series(labels[0], b1, BLUE, SOLID, 4), series(labels[1], b2, GREEN, DOT, 3), series(labels[2], b3, RED, DASHDOT, 2), series(labels[3], b4, YELLOW, DASH, 1)];
const c1 = [...c1L, ...cLobe, ...c1R], c2 = [...c2L, ...cLobe, ...c2R];
const c3 = [...c3L, ...cLobe, ...c3R], c4 = [...c4L, ...cLobe, ...c4R];
const setsC = () => [series(labels[0], c1, BLUE, SOLID, 4), series(labels[1], c2, YELLOW, DASH, 3), series(labels[2], c3, RED, DASHDOT, 2), series(labels[3], c4, GREEN, DOT, 1)];
// in the reference the (c) inset shows the 3rd/4th colours the other way round
const setsCZoom = () => [series(labels[0], c1, BLUE, SOLID, 4), series(labels[1], c2, YELLOW, DASH, 3), series(labels[2], c4, RED, DASHDOT, 2), series(labels[3], c3, GREEN, DOT, 1)];

const mainCommon = { x: xMain, xTicks: xTicksMain, fs: 18, xPad: 6, yPad: 7, padRight: 10, tick: 6, yTitle };
const zoomCommon = { x: xZoom, xTicks: xTicksZoom, y: yZoom, fs: 16, xPad: 5, yPad: 5, padTop: 4, padRight: 12, yW: 36, xH: 24, tick: 4, white: true };

const mA = makeChart('mainA', setsA(), { ...mainCommon, y: yMainA, yTicks: yTicksA, padTop: 4, yW: 66, xH: 48, xTitle: 'Angle (degrees)', box: boxA, arrow: arrowA });
makeChart('zoomA', setsA(), { ...zoomCommon, yTicks: yTicksZoomA });
legend(mA, 75, 17, 166, 88, 18.5, 21);

const mB = makeChart('mainB', setsB(), { ...mainCommon, y: yMainB, yTicks: yTicksB, padTop: 15.5, yW: 66, xH: 53, xTitle: 'Angle (degrees)', box: boxB, arrow: arrowB });
makeChart('zoomB', setsB(), { ...zoomCommon, yTicks: yTicksZoomBC });
legend(mB, 78, 468, 154, 81, 17, 20);

const mC = makeChart('mainC', setsC(), { ...mainCommon, y: yMainC, yTicks: yTicksC, padTop: 19.3, yW: 61, xH: 55, xTitle: 'Angles (degrees)', box: boxC, arrow: arrowC });
makeChart('zoomC', setsCZoom(), { ...zoomCommon, yTicks: yTicksZoomBC });
legend(mC, 71, 912, 166, 88, 18.5, 21);
</script>
</body>
</html>
